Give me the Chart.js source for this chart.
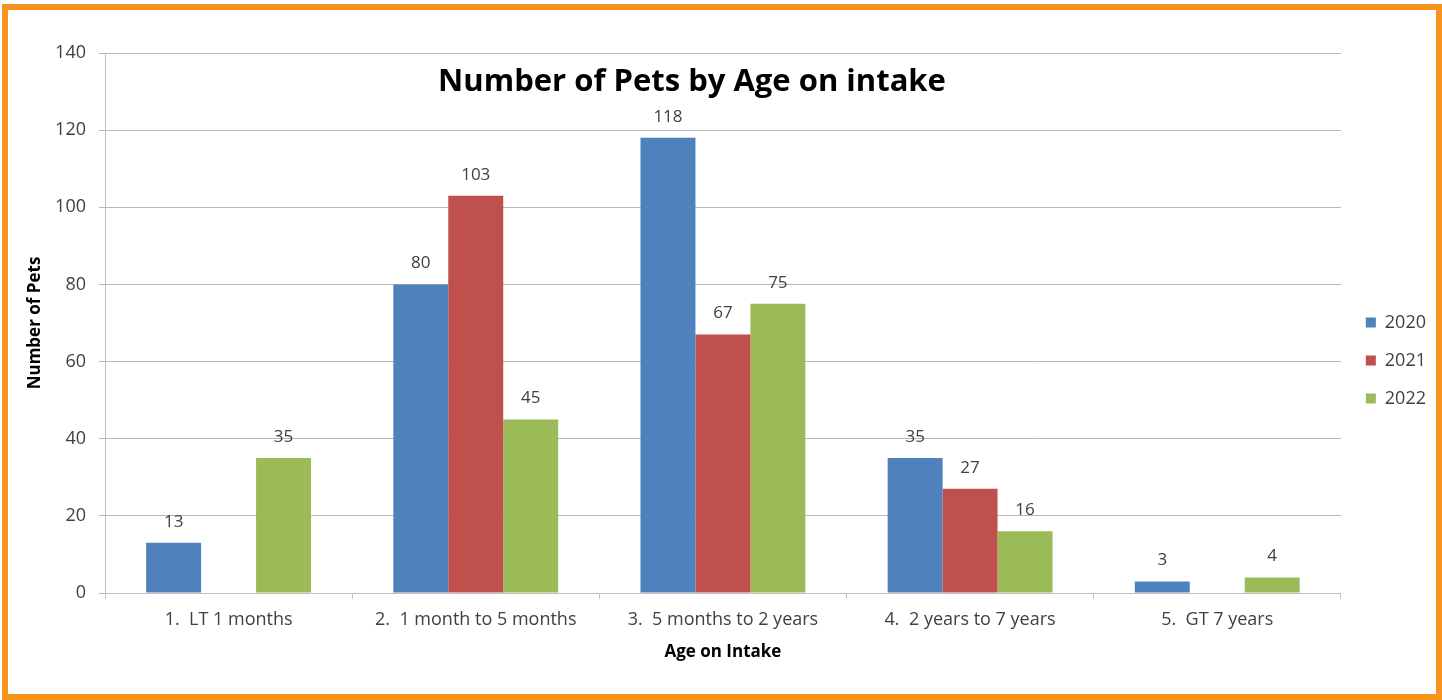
<!DOCTYPE html>
<html>
<head>
<meta charset="utf-8">
<script src="https://cdn.jsdelivr.net/npm/chart.js@4"></script>
<style>
  body { margin: 0; background: #fff; }
  #frame {
    position: absolute; left: 2px; top: 4px;
    width: 1440px; height: 696px; box-sizing: border-box;
    border: 6px solid #f7941d; background: #fff;
  }
  #wrap { position: relative; width: 1428px; height: 684px; }
</style>
</head>
<body>
<div id="frame"><div id="wrap"><canvas id="barchart"></canvas></div></div>
<script>
const categories = ['1.  LT 1 months', '2.  1 month to 5 months', '3.  5 months to 2 years', '4.  2 years to 7 years', '5.  GT 7 years'];
const pets2020 = [13, 80, 118, 35, 3];
const pets2021 = [null, 103, 67, 27, null];
const pets2022 = [35, 45, 75, 16, 4];
const yTicks = [0, 20, 40, 60, 80, 100, 120, 140];

const FONT = '"Open Sans", Lato, sans-serif';
const TEXT = '#404040';

// value labels above each bar
const barLabels = {
  id: 'barLabels',
  afterDatasetsDraw(chart) {
    const c = chart.ctx;
    c.save();
    c.font = '17px ' + FONT;
    c.fillStyle = TEXT;
    c.textAlign = 'center';
    c.textBaseline = 'middle';
    chart.data.datasets.forEach((ds, i) => {
      chart.getDatasetMeta(i).data.forEach((bar, j) => {
        if (ds.data[j] == null) return;
        c.fillText(ds.data[j], bar.x, bar.y - 21);
      });
    });
    c.restore();
  }
};

// title sits inside the plot area
const innerTitle = {
  id: 'innerTitle',
  afterDraw(chart) {
    const c = chart.ctx;
    c.save();
    c.font = 'bold 31px ' + FONT;
    c.fillStyle = '#000';
    c.textAlign = 'center';
    c.textBaseline = 'middle';
    c.fillText('Number of Pets by Age on intake', 684, chart.chartArea.top + 29);
    c.restore();
  }
};

const ctx = document.getElementById('barchart');

new Chart(ctx, {
  type: 'bar',
  data: {
    labels: categories,
    datasets: [
      { label: '2020', data: pets2020, backgroundColor: '#4f81bd' },
      { label: '2021', data: pets2021, backgroundColor: '#c0504d' },
      { label: '2022', data: pets2022, backgroundColor: '#9bbb59' }
    ]
  },
  options: {
    responsive: true,
    maintainAspectRatio: false,
    animation: false,
    datasets: {
      bar: { categoryPercentage: 0.667, barPercentage: 1 }
    },
    layout: { padding: { top: 43, bottom: 26, left: 0, right: 0 } },
    scales: {
      x: {
        grid: { display: true, offset: true, drawOnChartArea: false, tickLength: 6, color: '#bfbfbf' },
        border: { color: '#bfbfbf' },
        ticks: { color: TEXT, padding: 10, font: { family: FONT, size: 18 } },
        title: {
          display: true, text: 'Age on Intake', color: '#000',
          font: { family: FONT, size: 17, weight: 'bold' },
          padding: { top: 0, bottom: 6 }
        },
        afterFit(s) { s.height = 75; }
      },
      y: {
        min: 0, max: 140,
        afterBuildTicks(s) { s.ticks = yTicks.map(v => ({ value: v })); },
        grid: { color: '#b8b8b8', tickLength: 6 },
        border: { color: '#bfbfbf' },
        ticks: { color: TEXT, padding: 13, font: { family: FONT, size: 18 } },
        title: {
          display: true, text: 'Number of Pets', color: '#000',
          font: { family: FONT, size: 17, weight: 'bold' },
          padding: { top: 17, bottom: 0 }
        },
        afterFit(s) { s.width = 97; }
      },
      gap: {
        type: 'linear', position: 'right',
        grid: { display: false }, border: { display: false },
        ticks: { display: false },
        afterFit(s) { s.width = 5; }
      }
    },
    plugins: {
      legend: {
        position: 'right',
        labels: {
          boxWidth: 10, boxHeight: 10, padding: 20, color: TEXT,
          font: { family: FONT, size: 18 }
        }
      },
      tooltip: { enabled: false }
    }
  },
  plugins: [barLabels, innerTitle]
});
</script>
</body>
</html>
